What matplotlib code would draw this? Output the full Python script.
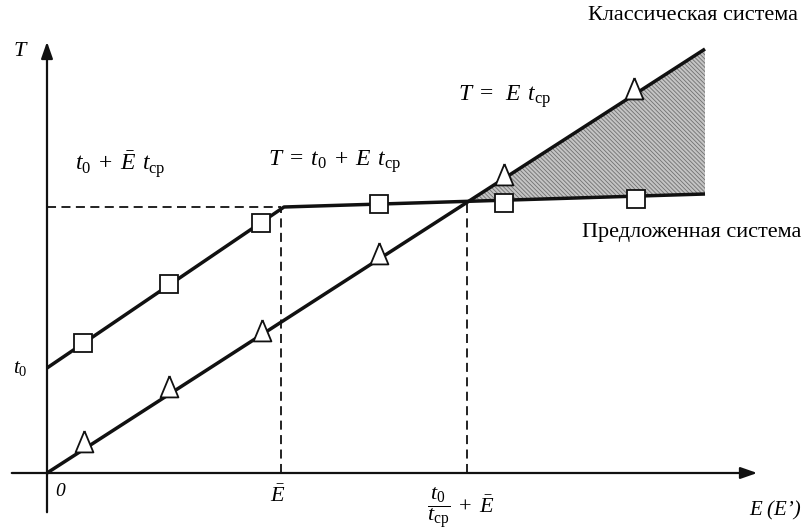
import matplotlib
matplotlib.use("Agg")
import matplotlib.pyplot as plt
import numpy as np

plt.rcParams['mathtext.fontset'] = 'custom'
plt.rcParams['mathtext.rm'] = 'Liberation Serif'
plt.rcParams['mathtext.it'] = 'Liberation Serif:italic'
plt.rcParams['mathtext.fallback'] = 'stix'
plt.rcParams['hatch.linewidth'] = 0.6

# schematic values (E along x, T along y, arbitrary units)
classic_E = [0, 658]
classic_T = [0, 424]
proposed_E = [0, 237, 658]
proposed_T = [105, 266, 279]
E_bar = 234
T_level = 266
E_cross = 420
T_cross = 271

square_E = [36, 122, 214, 332, 457, 589]
square_T = [130, 189, 250, 269, 270, 274]
tri_E = [37, 122, 215, 332, 457, 587]
tri_T = [30, 85, 141, 218, 297, 383]

fig = plt.figure(figsize=(8.08, 5.31), dpi=100)
ax = fig.add_axes([0, 0, 1, 1])
ax.set_xlim(-47, 761)
ax.set_ylim(-58, 473)
ax.axis('off')

# axes with arrows
ax.annotate('', xy=(713, 0), xytext=(-38, 0),
            arrowprops=dict(arrowstyle='-|>,head_length=1.0,head_width=0.35', color='#111', lw=1.6))
ax.annotate('', xy=(0, 434), xytext=(0, -42),
            arrowprops=dict(arrowstyle='-|>,head_length=1.0,head_width=0.35', color='#111', lw=1.6))

# dashed guides
dash = (0, (5, 3))
ax.plot([0, E_bar], [T_level, T_level], ls=dash, color='#111', lw=1.3)
ax.plot([E_bar, E_bar], [0, T_level], ls=dash, color='#111', lw=1.3)
ax.plot([E_cross, E_cross], [0, T_cross], ls=dash, color='#111', lw=1.3)

# hatched gain region
hE = np.array([E_cross, classic_E[1]])
ax.fill_between(hE, np.interp(hE, proposed_E, proposed_T), np.interp(hE, classic_E, classic_T),
                facecolor='#c4c4c4', edgecolor='#707070', hatch='\\\\\\\\\\\\\\\\', lw=0)

ax.plot(classic_E, classic_T, color='#111', lw=2.5, solid_capstyle='butt')
ax.plot(proposed_E, proposed_T, color='#111', lw=2.5, solid_capstyle='butt')

tri = [(0, 1.4), (-1, -1), (1, -1), (0, 1.4)]
ax.plot(square_E, square_T, ls='none', marker='s', ms=13, mfc='white', mec='#111', mew=1.3, zorder=5)
ax.plot(tri_E, tri_T, ls='none', marker=tri, ms=18, mfc='white', mec='#111', mew=1.3, zorder=5)

serif = 'Liberation Serif'
ax.text(-27, 421, 'T', fontsize=16, family=serif, style='italic', ha='center', va='center')
ax.text(-27, 105, r'$t_0$', fontsize=15, ha='center', va='center')
ax.text(13, -19, '0', fontsize=14, family=serif, style='italic', ha='center', va='center')
ax.text(231, -22, r'$\bar{E}$', fontsize=16, ha='center', va='center')
ax.text(414, -35, r'$\dfrac{t_0}{t_\mathrm{ср}}\;+\;\bar{E}$', fontsize=16, ha='center', va='center')
ax.text(728, -38, 'E (E’)', fontsize=15, family=serif, style='italic', ha='center', va='center')

ax.text(73, 308, r'$t_0\;+\;\bar{E}\;\,t_\mathrm{ср}$', fontsize=17, ha='center', va='center')
ax.text(288, 311, r'$T\;=\;t_0\;+\;E\;\,t_\mathrm{ср}$', fontsize=17, ha='center', va='center')
ax.text(458, 376, r'$T\;=\;\;E\;\,t_\mathrm{ср}$', fontsize=17, ha='center', va='center')

ax.text(541, 457, 'Классическая система', fontsize=16, family=serif, ha='left', va='center')
ax.text(535, 241, 'Предложенная система', fontsize=16, family=serif, ha='left', va='center')

fig.savefig('out.png', dpi=100)
